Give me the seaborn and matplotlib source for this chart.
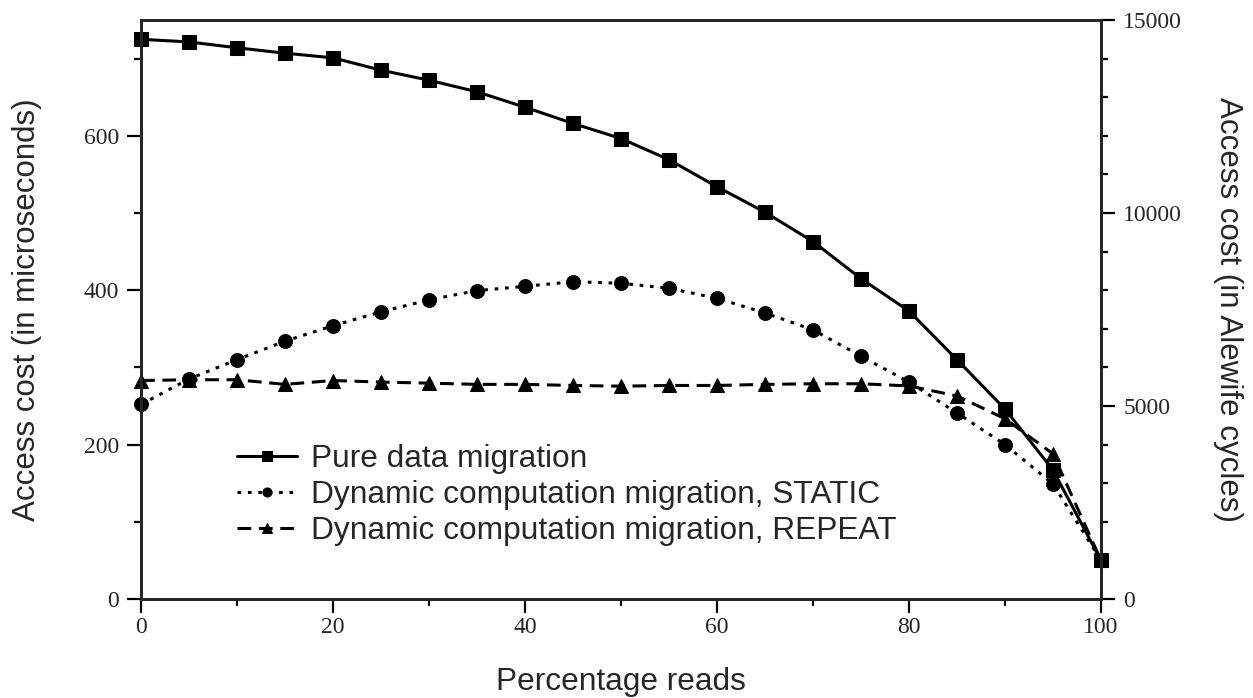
import matplotlib
matplotlib.use("Agg")
import matplotlib.pyplot as plt
import seaborn as sns
import pandas as pd
import numpy as np

# ---- data ----
pct_reads = [0, 5, 10, 15, 20, 25, 30, 35, 40, 45, 50,
             55, 60, 65, 70, 75, 80, 85, 90, 95, 100]
pure_data = [725, 721.6, 714, 707, 701, 685, 672, 657, 637, 616, 596.5,
             569, 534, 501, 463, 415, 373, 310, 246, 167, 50]
dyn_static = [252, 285, 310, 334, 354, 372, 387.5, 399.5, 405, 411, 409,
              402.5, 389.5, 370.6, 348.6, 314.5, 281, 241, 200, 149, 50]
dyn_repeat = [283, 284, 284, 278, 283, 281, 279.6, 278, 278, 276.6, 275.7,
              276.6, 276.6, 278, 278.8, 278.8, 276, 263, 233.5, 188, 50]
series_names = ["Pure data migration",
                "Dynamic computation migration, STATIC",
                "Dynamic computation migration, REPEAT"]
x_label = "Percentage reads"
y_label = "Access cost (in microseconds)"
y2_label = "Access cost (in Alewife cycles)"

sns.set_style("ticks")
plt.rcParams["font.family"] = ["Liberation Sans", "DejaVu Sans"]

fig = plt.figure(figsize=(12.53, 6.98), dpi=100)
ax = fig.add_axes([141/1253, 1-599/698, 960/1253, 579/698])

styles = [
    dict(marker="s", linestyle="-", markersize=10),
    dict(marker="o", linestyle=(0, (1.2, 2.2)), markersize=10),
    dict(marker="^", linestyle=(0, (4.5, 2.5)), markersize=10),
]
for name, vals, st in zip(series_names, [pure_data, dyn_static, dyn_repeat], styles):
    df = pd.DataFrame({"x": pct_reads, "y": vals})
    sns.lineplot(data=df, x="x", y="y", ax=ax, color="black", linewidth=2.2,
                 marker=st["marker"], markersize=st["markersize"],
                 markeredgecolor="black", markerfacecolor="black",
                 linestyle=st["linestyle"], label=name, clip_on=False)

ax.set_xlim(0, 100)
ax.set_ylim(0, 750)
ax.set_xticks(np.arange(0, 101, 20))
ax.set_xticks(np.arange(0, 101, 10), minor=True)
ax.set_yticks(np.arange(0, 701, 200))
ax.set_yticks(np.arange(0, 701, 100), minor=True)

tick_font = dict(family="Liberation Serif", size=17)
ax.set_xticklabels([str(v) for v in range(0, 101, 20)], fontdict=tick_font)
ax.set_yticklabels([str(v) for v in range(0, 701, 200)], fontdict=tick_font)

for s in ax.spines.values():
    s.set_linewidth(2.0)
    s.set_visible(True)
ax.tick_params(which="major", direction="out", length=10, width=1.6, color="black")
ax.tick_params(which="minor", direction="out", length=5, width=1.6, color="black")
ax.tick_params(axis="y", which="major", pad=6)
ax.tick_params(axis="x", which="major", pad=3)

ax.set_xlabel(x_label, fontsize=22.8)
ax.set_ylabel(y_label, fontsize=22.5)
ax.xaxis.set_label_coords(0.5, -0.118)
ax.yaxis.set_label_coords(-0.103, 0.5)

ax2 = ax.twinx()
ax2.set_position(ax.get_position())
ax2.set_ylim(0, 15000)
ax2.set_yticks(np.arange(0, 15001, 5000))
ax2.set_yticks(np.arange(0, 15001, 1000), minor=True)
ax2.set_yticklabels([str(v) for v in range(0, 15001, 5000)], fontdict=tick_font)
ax2.tick_params(which="major", direction="out", length=10, width=1.6, color="black", pad=6)
ax2.tick_params(which="minor", direction="out", length=5, width=1.6, color="black")
for s in ax2.spines.values():
    s.set_linewidth(2.0)
ax2.set_ylabel(y2_label, fontsize=22.5, rotation=270)
ax2.yaxis.set_label_coords(1.148, 0.5)

leg = ax.legend(loc="upper left", bbox_to_anchor=(0.100, 0.268), frameon=False,
                fontsize=22.8, handlelength=1.9, handletextpad=0.45,
                labelspacing=0.2, borderpad=0, borderaxespad=0, markerscale=0.65)

fig.savefig("out.png", dpi=100)
